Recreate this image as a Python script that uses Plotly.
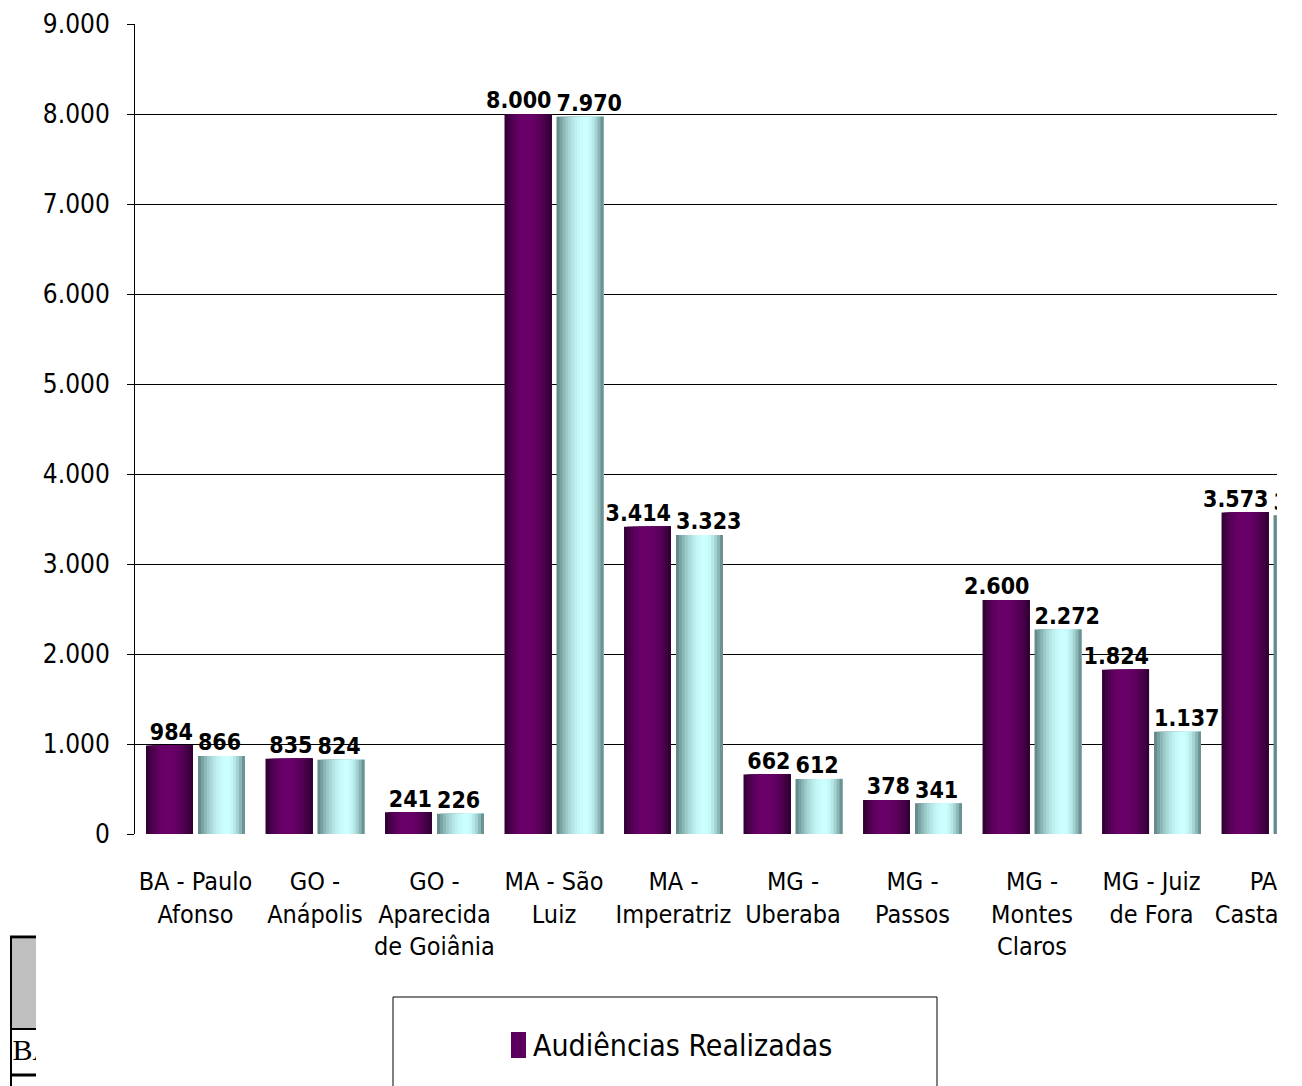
import plotly.graph_objects as go

# ---------------- data ----------------
categories = [
    "BA - Paulo<br>Afonso", "GO -<br>Anápolis", "GO -<br>Aparecida<br>de Goiânia",
    "MA - São<br>Luiz", "MA -<br>Imperatriz", "MG -<br>Uberaba", "MG -<br>Passos",
    "MG -<br>Montes<br>Claros", "MG - Juiz<br>de Fora", "PA -<br>Castanhal",
]
series1_name = "Audiências Realizadas"
series1 = [984, 835, 241, 8000, 3414, 662, 378, 2600, 1824, 3573]
series2_name = "Audiências (2ª série)"
series2 = [866, 824, 226, 7970, 3323, 612, 341, 2272, 1137, 3541]
y_ticks = [0, 1000, 2000, 3000, 4000, 5000, 6000, 7000, 8000, 9000]

# ---------------- helpers ----------------
W, H = 1302, 1086
def px(x): return x / W
def py(y): return 1 - y / H

NARROW = "Liberation Sans Narrow, Arial Narrow, DejaVu Sans Condensed, sans-serif"
X_RANGE = [-0.506, 9.05]

def lerp(a, b, f):
    return tuple(int(round(a[i] + (b[i] - a[i]) * f)) for i in range(3))

def grad_color(t, peak, dark, bright):
    s = t / peak if t < peak else (1 - t) / (1 - peak)
    f = 1 - (1 - s) ** 2
    c = lerp(dark, bright, f)
    return "rgb(%d,%d,%d)" % c

def fmt(v):
    return f"{v:,}".replace(",", ".")

fig = go.Figure()

bar_w = 0.393
offsets = {1: -0.414, 2: 0.021}
N = 16
styles = {
    1: dict(peak=0.45, dark=(0x2c, 0x00, 0x2e), bright=(0x6a, 0x00, 0x6a)),
    2: dict(peak=0.62, dark=(0x5a, 0x7e, 0x7f), bright=(0xcc, 0xff, 0xff)),
}

for sidx, vals, name in [(1, series1, series1_name), (2, series2, series2_name)]:
    st = styles[sidx]
    for k in range(N):
        t = (k + 0.5) / N
        fig.add_trace(go.Bar(
            x=categories, y=vals, name=name,
            offset=offsets[sidx] + k * bar_w / N,
            width=bar_w - k * bar_w / N,
            marker=dict(color=grad_color(t, st["peak"], st["dark"], st["bright"]),
                        line=dict(width=0)),
            showlegend=False, hoverinfo="skip",
        ))

# value labels (series 1 right-aligned to its bar's right edge, series 2 left-aligned)
idx = list(range(len(categories)))
fig.add_trace(go.Scatter(
    x=[i + offsets[1] + bar_w for i in idx], y=series1, mode="text",
    text=[fmt(v) for v in series1], textposition="top left",
    textfont=dict(family=NARROW, size=23, color="black", weight="bold"),
    xaxis="x3", yaxis="y", cliponaxis=True, showlegend=False, hoverinfo="skip",
))
fig.add_trace(go.Scatter(
    x=[i + offsets[2] for i in idx], y=series2, mode="text",
    text=[fmt(v) for v in series2], textposition="top right",
    textfont=dict(family=NARROW, size=23, color="black", weight="bold"),
    xaxis="x3", yaxis="y", cliponaxis=True, showlegend=False, hoverinfo="skip",
))

# clipped "BA" table fragment text
fig.add_trace(go.Scatter(
    x=[0.02], y=[0.5], mode="text", text=["BA"], textposition="middle right",
    textfont=dict(family="Liberation Serif, Times New Roman, serif", size=30, color="black"),
    xaxis="x2", yaxis="y2", cliponaxis=True, showlegend=False, hoverinfo="skip",
))

shapes = []
# bottom-left table fragment
shapes.append(dict(type="rect", xref="paper", yref="paper", x0=px(12), x1=px(36),
                   y0=py(1028), y1=py(939), fillcolor="#c0c0c0", line=dict(width=0), layer="above"))
for yy, lw in [(937, 3), (1029, 2), (1075, 3)]:
    shapes.append(dict(type="line", xref="paper", yref="paper", x0=px(10), x1=px(36),
                       y0=py(yy), y1=py(yy), line=dict(color="black", width=lw), layer="above"))
shapes.append(dict(type="line", xref="paper", yref="paper", x0=px(11), x1=px(11),
                   y0=py(936), y1=py(1090), line=dict(color="black", width=2), layer="above"))
# right clipping mask
shapes.append(dict(type="rect", xref="paper", yref="paper", x0=px(1278), x1=px(1310),
                   y0=py(990), y1=py(-5), fillcolor="white", line=dict(width=0), layer="above"))
# manual legend
shapes.append(dict(type="rect", xref="paper", yref="paper", x0=px(393), x1=px(937),
                   y0=py(1095), y1=py(997), fillcolor="white",
                   line=dict(color="black", width=1), layer="above"))
shapes.append(dict(type="rect", xref="paper", yref="paper", x0=px(511), x1=px(526),
                   y0=py(1058), y1=py(1032), fillcolor="#5a005c",
                   line=dict(width=0), layer="above"))

annotations = [dict(
    x=px(531), y=py(1045), xref="paper", yref="paper", xanchor="left", yanchor="middle",
    text=series1_name, showarrow=False,
    font=dict(family=NARROW, size=30, color="black"),
)]

fig.update_layout(
    width=W, height=H, margin=dict(l=0, r=0, t=0, b=0, autoexpand=False),
    paper_bgcolor="white", plot_bgcolor="white",
    barmode="overlay", separators=",.",
    showlegend=False,
    shapes=shapes, annotations=annotations,
    xaxis=dict(
        domain=[px(135), px(1277)], range=X_RANGE, automargin=False,
        type="category", categoryorder="array", categoryarray=categories,
        showgrid=False, zeroline=False, showline=False, ticks="",
        tickangle=0, ticklabelstandoff=30,
        tickfont=dict(family=NARROW, size=25, color="black"),
    ),
    xaxis3=dict(
        overlaying="x", anchor="y", range=X_RANGE, type="linear",
        visible=False, automargin=False,
    ),
    yaxis=dict(
        domain=[py(834), py(24)], range=[0, 9000], automargin=False,
        tickvals=y_ticks, tickformat=",d",
        showgrid=True, gridcolor="black", gridwidth=1,
        zeroline=False, showline=True, linecolor="black", linewidth=1,
        ticks="outside", ticklen=7, tickcolor="black", tickwidth=1,
        ticklabelstandoff=12,
        tickfont=dict(family=NARROW, size=26, color="black"),
    ),
    xaxis2=dict(domain=[px(12), px(36)], range=[0, 1], visible=False, anchor="y2",
                automargin=False),
    yaxis2=dict(domain=[py(1074), py(1031)], range=[0, 1], visible=False, anchor="x2",
                automargin=False),
)

fig.write_html("out.html")
